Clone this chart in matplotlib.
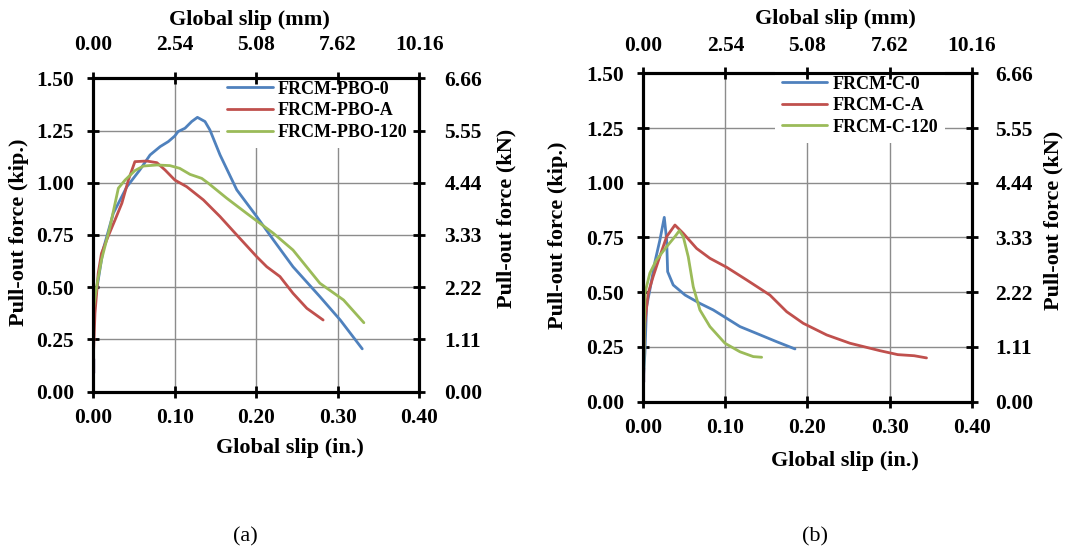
import matplotlib
matplotlib.use("Agg")
import matplotlib.pyplot as plt
from matplotlib.ticker import FormatStrFormatter

plt.rcParams['font.family'] = ['Liberation Serif', 'DejaVu Serif']
plt.rcParams['font.weight'] = 'bold'

# (a) FRCM-PBO specimens, slip in inches, force in kip
pbo0_x = [0.0, 0.006, 0.012, 0.0245, 0.041, 0.057, 0.0696, 0.082, 0.092, 0.100, 0.104,
          0.1125, 0.1207, 0.1277, 0.137, 0.143, 0.1555, 0.176, 0.2005, 0.221, 0.245,
          0.278, 0.303, 0.330]
pbo0_y = [0.39, 0.535, 0.68, 0.854, 0.98, 1.061, 1.133, 1.173, 1.197, 1.224, 1.245,
          1.261, 1.293, 1.313, 1.293, 1.253, 1.133, 0.966, 0.838, 0.726, 0.598,
          0.455, 0.343, 0.205]
pboA_x = [0.0, 0.002, 0.006, 0.010, 0.018, 0.0266, 0.035, 0.043, 0.051, 0.0655, 0.078,
          0.088, 0.100, 0.1146, 0.135, 0.1555, 0.176, 0.2005, 0.2128, 0.229, 0.245,
          0.262, 0.282]
pboA_y = [0.168, 0.375, 0.567, 0.662, 0.742, 0.822, 0.902, 1.013, 1.101, 1.104, 1.096,
          1.061, 1.013, 0.981, 0.918, 0.838, 0.750, 0.646, 0.598, 0.551, 0.471,
          0.399, 0.343]
pbo120_x = [0.0, 0.0, 0.004, 0.010, 0.0205, 0.0307, 0.039, 0.051, 0.0614, 0.078, 0.094,
            0.106, 0.1187, 0.133, 0.141, 0.1637, 0.188, 0.221, 0.245, 0.278, 0.307,
            0.332]
pbo120_y = [0.0, 0.39, 0.503, 0.631, 0.79, 0.974, 1.013, 1.058, 1.08, 1.085, 1.082,
            1.069, 1.04, 1.021, 0.998, 0.926, 0.854, 0.758, 0.678, 0.519, 0.439,
            0.33]

# (b) FRCM-C specimens
c0_x = [0.0, 0.002, 0.004, 0.008, 0.0143, 0.0203, 0.0256, 0.0285, 0.0297, 0.0365,
        0.051, 0.069, 0.0853, 0.1016, 0.1178, 0.138, 0.1625, 0.1848]
c0_y = [0.10, 0.221, 0.434, 0.51, 0.64, 0.739, 0.842, 0.739, 0.594, 0.533,
        0.487, 0.449, 0.419, 0.381, 0.343, 0.312, 0.274, 0.241]
cA_x = [0.0, 0.002, 0.006, 0.012, 0.020, 0.0285, 0.0386, 0.0487, 0.065, 0.0812, 0.1016,
        0.126, 0.1543, 0.1747, 0.1949, 0.2234, 0.2518, 0.2883, 0.31, 0.33, 0.345]
cA_y = [0.15, 0.358, 0.495, 0.571, 0.662, 0.754, 0.807, 0.769, 0.70, 0.655, 0.614,
        0.556, 0.487, 0.411, 0.358, 0.305, 0.267, 0.233, 0.215, 0.21, 0.20]
c120_x = [0.0, 0.001, 0.002, 0.008, 0.016, 0.0285, 0.0386, 0.0439, 0.0487, 0.0548,
          0.0609, 0.069, 0.0812, 0.0995, 0.1178, 0.134, 0.1442]
c120_y = [0.0, 0.251, 0.495, 0.587, 0.647, 0.708, 0.754, 0.781, 0.754, 0.662,
          0.525, 0.419, 0.343, 0.267, 0.228, 0.206, 0.203]

stub_x = [0.0, 0.0]
stub_y = [0.10, 0.15]

kip_ticks = [0, 0.25, 0.5, 0.75, 1.0, 1.25, 1.5]
kn_ticks = [0, 1.11, 2.22, 3.33, 4.44, 5.55, 6.66]
in_ticks = [0, 0.1, 0.2, 0.3, 0.4]
mm_ticks = [0, 2.54, 5.08, 7.62, 10.16]

blue, red, green, purple = '#4F81BD', '#C0504D', '#9BBB59', '#8064A2'
tfs = 15.5   # tick labels
lfs = 16     # axis titles
gfs = 13     # legend

fig = plt.figure(figsize=(10.68, 5.54), dpi=100)


def panel(rect, series, names, leg_x, top_pad, right_pad):
    ax = fig.add_axes(rect)
    for (x, y), c, n in zip(series, [blue, red, green], names):
        ax.plot(x, y, color=c, lw=2.0, label=n, solid_capstyle='round')
    ax.plot(stub_x, stub_y, color=purple, lw=2.5)
    ax.set_xlim(0, 0.4)
    ax.set_ylim(0, 1.5)
    ax.set_xticks(in_ticks)
    ax.set_yticks(kip_ticks)
    ax.xaxis.set_major_formatter(FormatStrFormatter('%.2f'))
    ax.yaxis.set_major_formatter(FormatStrFormatter('%.2f'))
    ax.grid(True, color='#8C8C8C', lw=1.0)
    ax.set_axisbelow(True)
    ax.tick_params(direction='inout', length=8, width=2, labelsize=tfs)
    ax.tick_params(axis='x', pad=8)
    ax.tick_params(axis='y', pad=10)
    for s in ax.spines.values():
        s.set_linewidth(2.2)
    leg = ax.legend(loc='upper left', bbox_to_anchor=(leg_x, 1.015), fontsize=gfs,
                    handlelength=2.5, handletextpad=0.3, labelspacing=0.25,
                    borderaxespad=0, borderpad=0.4, fancybox=False, framealpha=1,
                    edgecolor='none')
    leg.get_frame().set_facecolor('white')
    for t in leg.get_texts():
        t.set_fontweight('bold')
    ax.set_xlabel('Global slip (in.)', fontsize=lfs, fontweight='bold')
    ax.set_ylabel('Pull-out force (kip.)', fontsize=lfs, fontweight='bold')

    top = ax.twiny()
    top.set_xlim(0, 10.16)
    top.set_xticks(mm_ticks)
    top.xaxis.set_major_formatter(FormatStrFormatter('%.2f'))
    top.tick_params(direction='inout', length=8, width=2, labelsize=tfs, pad=top_pad)
    top.set_xlabel('Global slip (mm)', fontsize=lfs, fontweight='bold')

    right = ax.twinx()
    right.set_ylim(0, 6.66)
    right.set_yticks(kn_ticks)
    right.yaxis.set_major_formatter(FormatStrFormatter('%.2f'))
    right.tick_params(direction='inout', length=8, width=2, labelsize=tfs, pad=right_pad)
    right.set_ylabel('Pull-out force (kN)', fontsize=lfs, fontweight='bold')
    for a in (top, right):
        for s in a.spines.values():
            s.set_linewidth(2.2)
    return ax, top, right


axL, topL, rightL = panel([0.0874, 0.293, 0.3052, 0.5657],
                          [(pbo0_x, pbo0_y), (pboA_x, pboA_y), (pbo120_x, pbo120_y)],
                          ['FRCM-PBO-0', 'FRCM-PBO-A', 'FRCM-PBO-120'], 0.389, 12.5, 14)
axL.xaxis.set_label_coords(0.603, -0.148)
axL.yaxis.set_label_coords(-0.196, 0.51)
topL.xaxis.set_label_coords(0.48, 1.17)
rightL.yaxis.set_label_coords(1.238, 0.554)

axR, topR, rightR = panel([0.6023, 0.2749, 0.3075, 0.5928],
                          [(c0_x, c0_y), (cA_x, cA_y), (c120_x, c120_y)],
                          ['FRCM-C-0', 'FRCM-C-A', 'FRCM-C-120'], 0.40, 8.5, 13)
axR.xaxis.set_label_coords(0.614, -0.150)
axR.yaxis.set_label_coords(-0.2295, 0.507)
topR.xaxis.set_label_coords(0.584, 1.150)
rightR.yaxis.set_label_coords(1.22, 0.553)

fig.text(245 / 1068, 1 - 537 / 554, '(a)', fontsize=16, fontweight='normal',
         ha='center', va='center')
fig.text(815 / 1068, 1 - 537 / 554, '(b)', fontsize=16, fontweight='normal',
         ha='center', va='center')

fig.savefig('out.png', dpi=100)
